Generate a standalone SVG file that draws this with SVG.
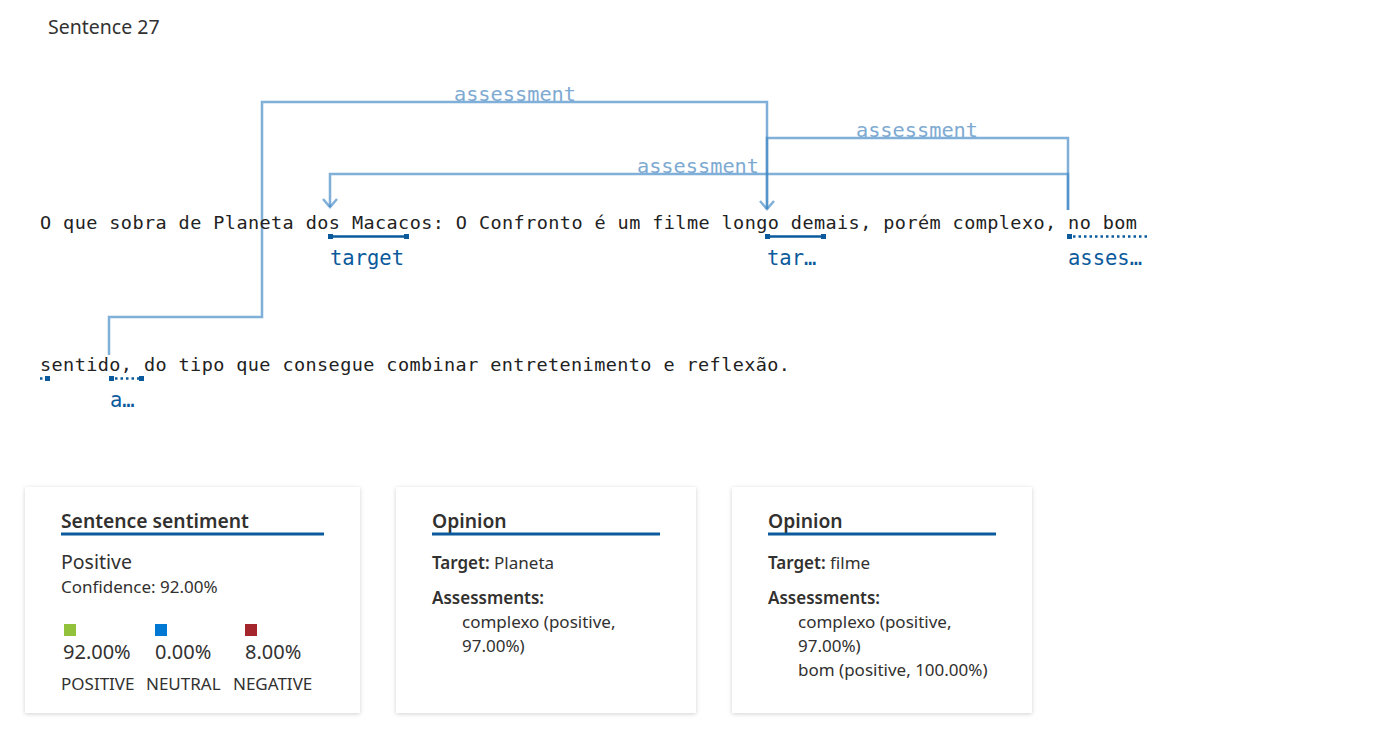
<svg xmlns="http://www.w3.org/2000/svg" width="1387" height="729" viewBox="0 0 1387 729">
<defs>
<style>
.mono{font-family:"DejaVu Sans Mono","Liberation Mono",monospace;font-size:18.5px;fill:#222}
.lbl{font-family:"DejaVu Sans Mono","Liberation Mono",monospace;font-size:20.5px;fill:#0b5a9c}
.elbl{font-family:"DejaVu Sans Mono","Liberation Mono",monospace;font-size:20.3px;fill:#7eaad2}
.conn{fill:none;stroke:#3c86c4;stroke-opacity:0.65;stroke-width:2.5}
.ul{stroke:#0b5a9c;stroke-width:2.5}
.dot{stroke:#0b5a9c;stroke-width:2.5;stroke-dasharray:2.5 3}
.sq{fill:#0b5a9c}
.ui{font-family:"Segoe UI","Noto Sans","Open Sans",sans-serif;fill:#323130}
.h{font-size:19.3px;font-weight:600}
.b{font-weight:600}
.s{font-size:17px}
.card{fill:#fff}
.bar{stroke:#0b5a9c;stroke-width:3}
</style>
<filter id="sh" x="-10%" y="-10%" width="120%" height="120%">
<feDropShadow dx="0" dy="1" stdDeviation="2" flood-color="#000" flood-opacity="0.18"/>
</filter>
</defs>
<rect width="1387" height="729" fill="#fff"/>
<text class="ui" x="48" y="34" font-size="19.5">Sentence 27</text>

<g id="connectors">
<path class="conn" d="M109,355 V317 H262 V102 H767 V209"/>
<path class="conn" d="M1068,210 V138 H767 V209"/>
<path class="conn" d="M1068,210 V174 H330 V207"/>
<path class="conn" d="M760,201 L767,209 L774,201"/>
<path class="conn" d="M323,199 L330,207 L337,199"/>
<text class="elbl" x="515" y="101" text-anchor="middle">assessment</text>
<text class="elbl" x="917" y="137" text-anchor="middle">assessment</text>
<text class="elbl" x="698" y="173" text-anchor="middle">assessment</text>
</g>

<g id="sentence1">
<text class="mono" x="40" y="229" textLength="1097" lengthAdjust="spacing">O que sobra de Planeta dos Macacos: O Confronto é um filme longo demais, porém complexo, no bom</text>
</g>
<g id="sentence2">
<text class="mono" x="40" y="371" textLength="750" lengthAdjust="spacing">sentido, do tipo que consegue combinar entretenimento e reflexão.</text>
</g>

<g id="span-target1">
<line class="ul" x1="330" y1="236.5" x2="406" y2="236.5"/>
<rect class="sq" x="328" y="234" width="5" height="5"/>
<rect class="sq" x="404" y="234" width="5" height="5"/>
<text class="lbl" x="330" y="265">target</text>
</g>
<g id="span-target2">
<line class="ul" x1="767" y1="236.5" x2="823" y2="236.5"/>
<rect class="sq" x="765" y="234" width="5" height="5"/>
<rect class="sq" x="821" y="234" width="5" height="5"/>
<text class="lbl" x="767" y="265">tar…</text>
</g>
<g id="span-assess1">
<rect class="sq" x="1067" y="234" width="5" height="5"/>
<line class="dot" x1="1073" y1="236.5" x2="1149" y2="236.5"/>
<text class="lbl" x="1068" y="265">asses…</text>
</g>
<g id="span-assess2">
<line class="dot" x1="40" y1="378.5" x2="44" y2="378.5"/>
<rect class="sq" x="45" y="376" width="5" height="5"/>
<rect class="sq" x="109" y="376" width="5" height="5"/>
<line class="dot" x1="115" y1="378.5" x2="140" y2="378.5"/>
<rect class="sq" x="139" y="376" width="5" height="5"/>
<text class="lbl" x="110" y="407">a…</text>
</g>

<g id="card-sentiment">
<rect class="card" x="25" y="487" width="335" height="226" filter="url(#sh)"/>
<text class="ui h" x="61" y="528">Sentence sentiment</text>
<line class="bar" x1="61" y1="534" x2="324" y2="534"/>
<text class="ui" x="61" y="569" font-size="19.5">Positive</text>
<text class="ui s" x="61" y="593">Confidence: 92.00%</text>
<rect x="64" y="624" width="12" height="12" fill="#92c13b"/>
<rect x="155" y="624" width="12" height="12" fill="#0078d4"/>
<rect x="245" y="624" width="12" height="12" fill="#a4262c"/>
<text class="ui" x="63" y="659" font-size="20">92.00%</text>
<text class="ui" x="155" y="659" font-size="20">0.00%</text>
<text class="ui" x="245" y="659" font-size="20">8.00%</text>
<text class="ui s" x="61" y="690">POSITIVE</text>
<text class="ui s" x="146" y="690">NEUTRAL</text>
<text class="ui s" x="233" y="690">NEGATIVE</text>
</g>

<g id="card-opinion1">
<rect class="card" x="396" y="487" width="300" height="226" filter="url(#sh)"/>
<text class="ui h" x="432" y="528">Opinion</text>
<line class="bar" x1="432" y1="534" x2="660" y2="534"/>
<text class="ui s" x="432" y="569"><tspan class="b">Target:</tspan> Planeta</text>
<text class="ui s b" x="432" y="604">Assessments:</text>
<text class="ui s" x="462" y="628">complexo (positive,</text>
<text class="ui s" x="462" y="652">97.00%)</text>
</g>

<g id="card-opinion2">
<rect class="card" x="732" y="487" width="300" height="226" filter="url(#sh)"/>
<text class="ui h" x="768" y="528">Opinion</text>
<line class="bar" x1="768" y1="534" x2="996" y2="534"/>
<text class="ui s" x="768" y="569"><tspan class="b">Target:</tspan> filme</text>
<text class="ui s b" x="768" y="604">Assessments:</text>
<text class="ui s" x="798" y="628">complexo (positive,</text>
<text class="ui s" x="798" y="652">97.00%)</text>
<text class="ui s" x="798" y="676">bom (positive, 100.00%)</text>
</g>
</svg>
